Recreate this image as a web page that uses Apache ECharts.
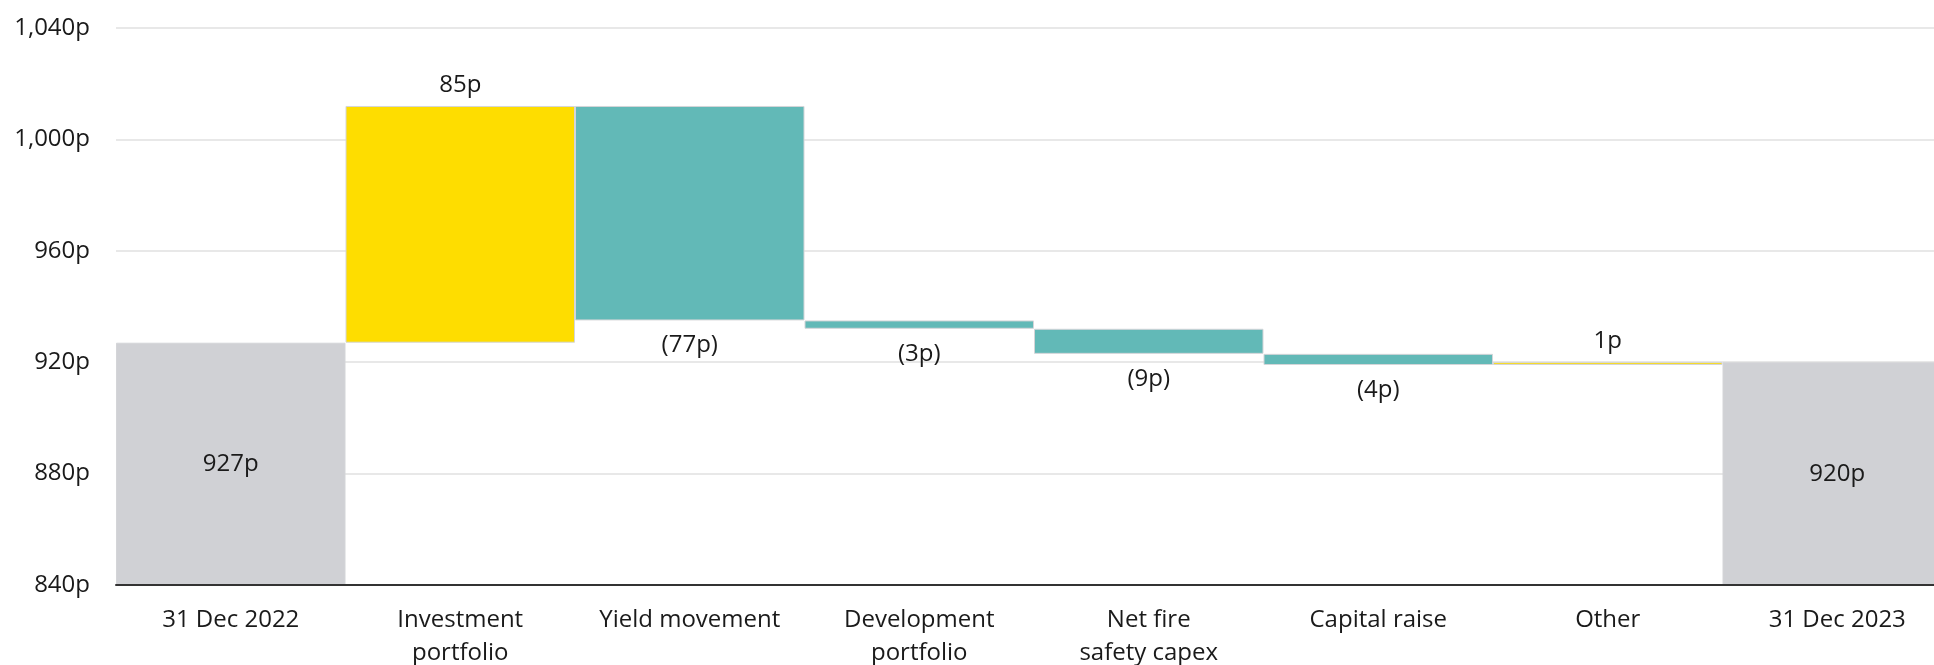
<!DOCTYPE html>
<html>
<head>
<meta charset="utf-8">
<title>NAV per share bridge</title>
<script src="https://cdn.jsdelivr.net/npm/echarts@6/dist/echarts.min.js"></script>
<style>
  html, body { margin: 0; padding: 0; background: #ffffff; }
  #chart { width: 1934px; height: 665px; }
</style>
</head>
<body>
<div id="chart"></div>
<script>
// Categories along the bridge
const categories = [
  '31 Dec 2022',
  'Investment\nportfolio',
  'Yield movement',
  'Development\nportfolio',
  'Net fire\nsafety capex',
  'Capital raise',
  'Other',
  '31 Dec 2023'
];
// Opening and closing NAV per share (pence)
const openingNav = 927;
const closingNav = 920;
// Movements between the two (pence)
const movements = [85, -77, -3, -9, -4, 1];
// Value axis ticks
const axisMin = 840;
const axisMax = 1040;
const axisStep = 40;

const GREY = '#d0d1d5';
const YELLOW = '#fedd00';
const TEAL = '#62b9b7';
const EDGE = '#d4d5d8';
const FONT = '"Open Sans", "Noto Sans", sans-serif';
const FONT_SIZE = 24;

// Build invisible offsets and visible bar heights for a stacked waterfall
const baseData = [];
const barData = [];

baseData.push(0);
barData.push({
  value: openingNav,
  itemStyle: { color: GREY },
  label: { show: true, position: 'inside', formatter: openingNav + 'p' }
});

let running = openingNav;
movements.forEach(function (m) {
  const lo = Math.min(running, running + m);
  baseData.push(lo);
  const up = m >= 0;
  barData.push({
    value: Math.abs(m),
    itemStyle: { color: up ? YELLOW : TEAL },
    label: {
      show: true,
      position: up ? 'top' : 'bottom',
      distance: up ? 9 : 13,
      formatter: up ? m + 'p' : '(' + Math.abs(m) + 'p)'
    }
  });
  running += m;
});

baseData.push(0);
barData.push({
  value: closingNav,
  itemStyle: { color: GREY },
  label: { show: true, position: 'inside', formatter: closingNav + 'p' }
});

const chart = echarts.init(document.getElementById('chart'), null, { renderer: 'canvas' });

chart.setOption({
  animation: false,
  backgroundColor: '#ffffff',
  textStyle: { fontFamily: FONT },
  // the plot runs a little past the right edge of the canvas
  grid: {
    left: 116,
    width: 1836,
    top: 28,
    bottom: 80,
    containLabel: false,
    outerBoundsMode: 'none'
  },
  xAxis: {
    type: 'category',
    data: categories,
    axisLine: { show: true, lineStyle: { color: '#333333', width: 2 } },
    axisTick: { show: false },
    axisLabel: {
      color: '#1a1a1a',
      fontSize: FONT_SIZE,
      fontFamily: FONT,
      lineHeight: 33,
      margin: 19,
      interval: 0
    },
    z: 10
  },
  yAxis: {
    type: 'value',
    min: axisMin,
    max: axisMax,
    interval: axisStep,
    axisLine: { show: false },
    axisTick: { show: false },
    axisLabel: {
      color: '#1a1a1a',
      fontSize: FONT_SIZE,
      fontFamily: FONT,
      margin: 26,
      formatter: function (v) { return v.toLocaleString('en-GB') + 'p'; }
    },
    splitLine: { show: true, lineStyle: { color: '#e0e0e0', width: 1.5 } }
  },
  series: [
    {
      name: 'offset',
      type: 'bar',
      stack: 'bridge',
      barWidth: '100%',
      barCategoryGap: 0,
      itemStyle: { color: 'transparent', borderWidth: 0 },
      emphasis: { disabled: true },
      silent: true,
      data: baseData
    },
    {
      name: 'movement',
      type: 'bar',
      stack: 'bridge',
      barWidth: '100%',
      barCategoryGap: 0,
      clip: true,
      itemStyle: { borderColor: EDGE, borderWidth: 1 },
      label: {
        color: '#1a1a1a',
        fontSize: FONT_SIZE,
        fontFamily: FONT
      },
      data: barData
    }
  ]
});
</script>
</body>
</html>
